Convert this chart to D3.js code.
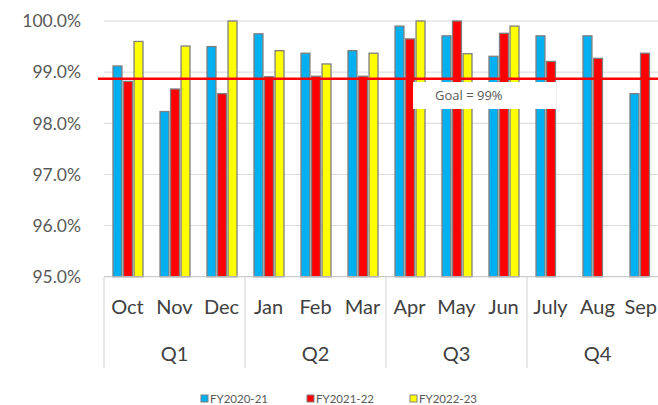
<!DOCTYPE html>
<html><head><meta charset="utf-8">
<script src="https://cdn.jsdelivr.net/npm/d3@7/dist/d3.min.js"></script>
<style>body{margin:0;background:#fff}svg{display:block}</style>
</head><body>
<script>
const months = ["Oct","Nov","Dec","Jan","Feb","Mar","Apr","May","Jun","July","Aug","Sep"];
const quarters = ["Q1","Q2","Q3","Q4"];
const seriesNames = ["FY2020-21","FY2021-22","FY2022-23"];
const fy2021 = [99.12,98.23,99.50,99.75,99.37,99.42,99.90,99.71,99.31,99.71,99.71,98.58];
const fy2122 = [98.82,98.67,98.58,98.91,98.92,98.92,99.65,100.0,99.76,99.21,99.27,99.37];
const fy2223 = [99.60,99.51,100.0,99.42,99.16,99.37,100.0,99.36,99.90,null,null,null];
const yTicks = [95,96,97,98,99,100];
const goalValue = 98.87;
const goalLabel = "Goal = 99%";
const colors = ["#00b0f0","#ff0000","#ffff00"];

const W=658,H=405;
const svg=d3.select("body").append("svg").attr("width",W).attr("height",H);
const left=104, bandW=47;
const x=d3.scaleBand().domain(months).range([left,left+bandW*months.length]).padding(0);
const xs=d3.scaleBand().domain(seriesNames).range([9,39]).paddingInner(0.15);
const y=d3.scaleLinear().domain([95,100]).range([276.7,21]);
const font="Lato, 'Open Sans', sans-serif";

// gridlines
svg.append("g").selectAll("line").data(yTicks.filter(t=>t>95)).join("line")
  .attr("x1",left).attr("x2",W).attr("y1",d=>y(d)).attr("y2",d=>y(d))
  .attr("stroke","#d9d9d9").attr("stroke-width",1);
// y labels
svg.append("g").selectAll("text").data(yTicks).join("text")
  .attr("x",81).attr("y",d=>y(d)).attr("dy","0.36em").attr("text-anchor","end")
  .attr("font-family",font).attr("font-size",17.5).attr("fill","#595959")
  .text(d=>d3.format(".1f")(d)+"%");

// bars
const series=[fy2021,fy2122,fy2223];
series.forEach((vals,si)=>{
  svg.append("g").selectAll("rect").data(vals.map((v,i)=>({v,m:months[i]})).filter(d=>d.v!=null)).join("rect")
    .attr("x",d=>x(d.m)+xs(seriesNames[si]))
    .attr("width",xs.bandwidth())
    .attr("y",d=>y(d.v)).attr("height",d=>y(95)-y(d.v))
    .attr("fill",colors[si]).attr("stroke","#7f7f7f").attr("stroke-width",1.3);
});

// goal label box
svg.append("rect").attr("x",413).attr("y",82).attr("width",143).attr("height",27).attr("fill","#fff");
svg.append("text").attr("x",435).attr("y",100).attr("font-family","'Open Sans', sans-serif")
  .attr("font-size",13).attr("fill","#595959").text(goalLabel);
// goal line
svg.append("line").attr("x1",98).attr("x2",W).attr("y1",y(goalValue)).attr("y2",y(goalValue))
  .attr("stroke","#ff0000").attr("stroke-width",2.5);

// x axis baseline
svg.append("line").attr("x1",left).attr("x2",W).attr("y1",y(95)).attr("y2",y(95)).attr("stroke","#bfbfbf");
// quarter separators
const sepIdx=[0,3,6,9];
svg.append("g").selectAll("line").data(sepIdx).join("line")
  .attr("x1",d=>x(months[d])).attr("x2",d=>x(months[d]))
  .attr("y1",y(95)).attr("y2",368).attr("stroke","#d9d9d9").attr("stroke-width",1.2);
// month labels
svg.append("g").selectAll("text").data(months).join("text")
  .attr("x",d=>x(d)+bandW/2).attr("y",314).attr("text-anchor","middle")
  .attr("font-family",font).attr("font-size",20).attr("fill","#404040").text(d=>d)
  .each(function(){
    const w=this.getComputedTextLength();
    const cx=+this.getAttribute("x");
    if(cx+w/2>W-1) this.setAttribute("x",W-1-w/2);
  });
// quarter labels
svg.append("g").selectAll("text").data(quarters).join("text")
  .attr("x",(d,i)=>x(months[i*3])+bandW*1.5).attr("y",361).attr("text-anchor","middle")
  .attr("font-family",font).attr("font-size",20).attr("fill","#404040").text(d=>d);

// legend
const legX=[201,307,410];
const lg=svg.append("g").selectAll("g").data(seriesNames).join("g")
  .attr("transform",(d,i)=>`translate(${legX[i]},399)`);
lg.append("rect").attr("x",0).attr("y",-4).attr("width",7).attr("height",7)
  .attr("fill",(d,i)=>colors[i]).attr("stroke","#7f7f7f").attr("stroke-width",1);
lg.append("text").attr("x",9).attr("y",0).attr("dy","0.35em")
  .attr("font-family",font).attr("font-size",11.5).attr("fill","#595959").text(d=>d);
</script>
</body></html>
